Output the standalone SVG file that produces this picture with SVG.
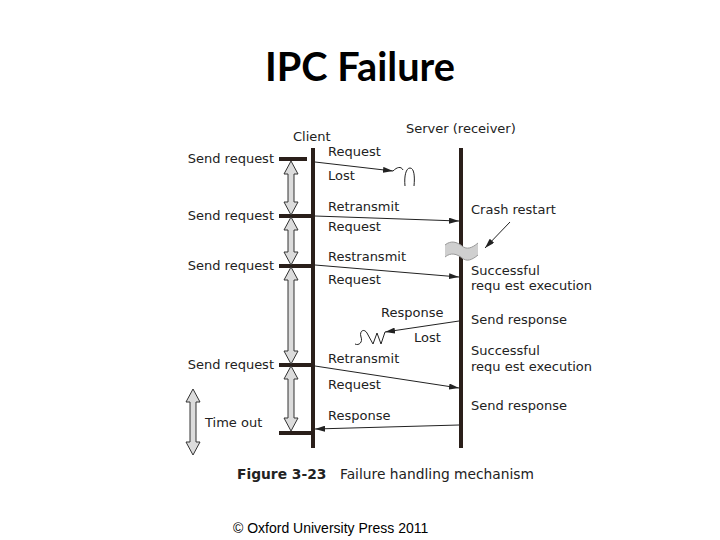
<svg xmlns="http://www.w3.org/2000/svg" width="720" height="540" viewBox="0 0 720 540">
<style>
.t{font-family:"DejaVu Sans",Verdana,sans-serif;font-size:13px;fill:#222}
.life{stroke:#2a1f1a;stroke-width:4}
.bar{stroke:#2a1f1a;stroke-width:4}
.msg{stroke:#222;stroke-width:1;fill:none}
.dbl{fill:#dcdcdc;stroke:#333;stroke-width:1}
</style>
<defs>
<marker id="ah" viewBox="0 0 10 6" refX="10" refY="3" markerWidth="10" markerHeight="6" markerUnits="userSpaceOnUse" orient="auto">
<path d="M0,0 L10,3 L0,6 Z" fill="#222"/>
</marker>
</defs>
<rect width="720" height="540" fill="#fff"/>
<text x="360" y="81" text-anchor="middle" font-family="Lato,'Liberation Sans',Arial,sans-serif" font-weight="bold" font-size="40" textLength="190" lengthAdjust="spacingAndGlyphs" fill="#000">IPC Failure</text>

<g id="client">
<text class="t" x="293" y="141">Client</text>
<line class="life" x1="313" y1="148" x2="313" y2="448"/>
</g>
<g id="server">
<text class="t" x="406" y="133">Server (receiver)</text>
<line class="life" x1="461" y1="148" x2="461" y2="448"/>
<path d="M445,245 C451,240 457,242 462,246 C467,250 472,248 478,243 L478,255 C472,260 467,262 462,258 C457,254 451,252 445,257 Z" fill="#cfcfcf"/>
<path d="M445,245 C451,240 457,242 462,246 C467,250 472,248 478,243 M445,257 C451,252 457,254 462,258 C467,262 472,260 478,255" fill="none" stroke="#999" stroke-width="1"/>
</g>

<g id="left-labels">
<text class="t" x="274" y="163" text-anchor="end">Send request</text>
<text class="t" x="274" y="220" text-anchor="end">Send request</text>
<text class="t" x="274" y="270" text-anchor="end">Send request</text>
<text class="t" x="274" y="369" text-anchor="end">Send request</text>
<text class="t" x="205" y="427">Time out</text>
</g>

<g id="bars">
<line class="bar" x1="279" y1="159" x2="307" y2="159"/>
<line class="bar" x1="279" y1="216" x2="311" y2="216"/>
<line class="bar" x1="279" y1="266" x2="311" y2="266"/>
<line class="bar" x1="279" y1="365" x2="311" y2="365"/>
<line class="bar" x1="279" y1="433" x2="311" y2="433"/>
</g>

<g id="intervals">
<path class="dbl" d="M291,161 L298,174 L294,174 L294,202 L298,202 L291,215 L284,202 L288,202 L288,174 L284,174 Z"/>
<path class="dbl" d="M291,217 L298,230 L294,230 L294,252 L298,252 L291,265 L284,252 L288,252 L288,230 L284,230 Z"/>
<path class="dbl" d="M291,267 L298,280 L294,280 L294,351 L298,351 L291,364 L284,351 L288,351 L288,280 L284,280 Z"/>
<path class="dbl" d="M291,366 L298,379 L294,379 L294,418 L298,418 L291,431 L284,418 L288,418 L288,379 L284,379 Z"/>
<path class="dbl" d="M193,389 L200,402 L196,402 L196,442 L200,442 L193,455 L186,442 L190,442 L190,402 L186,402 Z"/>
</g>

<g id="connectors">
<line class="msg" x1="315" y1="162" x2="393" y2="171" marker-end="url(#ah)"/>
<path class="msg" d="M393,171 C397,167 401,166 403,170 M405,186 C404,176 406,168 410,168 C414,168 415,176 414,186"/>
<line class="msg" x1="315" y1="216" x2="459" y2="221" marker-end="url(#ah)"/>
<line class="msg" x1="315" y1="265" x2="459" y2="277" marker-end="url(#ah)"/>
<line class="msg" x1="459" y1="321" x2="385" y2="332" marker-end="url(#ah)"/>
<path class="msg" d="M385,332 L381,344 L377,333 L373,344 L367,333 C364,328 359,331 361,337 C363,342 359,346 355,344"/>
<line class="msg" x1="315" y1="366" x2="459" y2="388" marker-end="url(#ah)"/>
<line class="msg" x1="459" y1="425" x2="315" y2="429" marker-end="url(#ah)"/>
<line class="msg" x1="510" y1="222" x2="485" y2="248" marker-end="url(#ah)"/>
</g>

<g id="msg-labels">
<text class="t" x="328" y="156">Request</text>
<text class="t" x="328" y="180">Lost</text>
<text class="t" x="328" y="211">Retransmit</text>
<text class="t" x="328" y="231">Request</text>
<text class="t" x="328" y="261">Restransmit</text>
<text class="t" x="328" y="284">Request</text>
<text class="t" x="381" y="317">Response</text>
<text class="t" x="414" y="342">Lost</text>
<text class="t" x="328" y="363">Retransmit</text>
<text class="t" x="328" y="389">Request</text>
<text class="t" x="328" y="420">Response</text>
</g>

<g id="right-labels">
<text class="t" x="471" y="214">Crash restart</text>
<text class="t" x="471" y="275">Successful</text>
<text class="t" x="471" y="290">requ est execution</text>
<text class="t" x="471" y="324">Send response</text>
<text class="t" x="471" y="355">Successful</text>
<text class="t" x="471" y="371">requ est execution</text>
<text class="t" x="471" y="410">Send response</text>
</g>

<g id="caption">
<text class="t" x="237" y="479" font-weight="bold" style="font-size:13.8px">Figure 3-23</text>
<text class="t" x="340" y="479" style="font-size:13.8px">Failure handling mechanism</text>
</g>
<text x="233" y="533" font-family="'Liberation Sans',Arial,sans-serif" font-size="14" fill="#000">© Oxford University Press 2011</text>
</svg>
